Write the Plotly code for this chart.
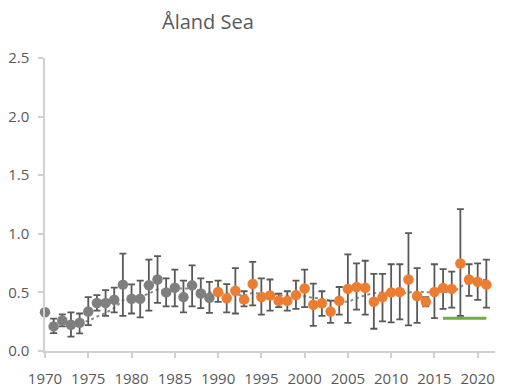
import numpy as np
import pandas as pd
import plotly.graph_objects as go

# Annual values with upper/lower limits of the confidence interval
early_years = list(range(1970, 1990))
early_value = [0.33, 0.21, 0.26, 0.224, 0.24, 0.336, 0.41, 0.41, 0.437, 0.566,
               0.445, 0.445, 0.56, 0.61, 0.50, 0.54, 0.46, 0.56, 0.49, 0.454]
early_upper = [0.33, 0.276, 0.313, 0.33, 0.32, 0.46, 0.477, 0.52, 0.54, 0.83,
               0.569, 0.60, 0.78, 0.81, 0.62, 0.695, 0.60, 0.73, 0.62, 0.59]
early_lower = [0.33, 0.152, 0.21, 0.123, 0.15, 0.22, 0.345, 0.30, 0.33, 0.30,
               0.32, 0.287, 0.345, 0.41, 0.38, 0.38, 0.33, 0.38, 0.365, 0.325]

late_years = list(range(1990, 2022))
late_value = [0.503, 0.45, 0.514, 0.44, 0.572, 0.46, 0.474, 0.428, 0.428, 0.477,
              0.534, 0.394, 0.408, 0.336, 0.428, 0.53, 0.546, 0.54, 0.42, 0.46,
              0.50, 0.503, 0.61, 0.47, 0.42, 0.503, 0.537, 0.53, 0.747, 0.61,
              0.59, 0.566]
late_upper = [0.60, 0.57, 0.707, 0.51, 0.76, 0.62, 0.61, 0.49, 0.51, 0.60,
              0.695, 0.575, 0.51, 0.43, 0.546, 0.825, 0.747, 0.77, 0.658, 0.658,
              0.74, 0.74, 1.006, 0.707, 0.46, 0.74, 0.698, 0.678, 1.21, 0.74,
              0.747, 0.78]
late_lower = [0.42, 0.33, 0.32, 0.38, 0.39, 0.31, 0.345, 0.374, 0.345, 0.36,
              0.374, 0.215, 0.30, 0.24, 0.31, 0.24, 0.353, 0.31, 0.19, 0.253,
              0.244, 0.27, 0.218, 0.24, 0.38, 0.28, 0.36, 0.37, 0.30, 0.47,
              0.437, 0.37]

# Threshold level for the assessment period
threshold_years = [2016, 2021]
threshold_value = [0.28, 0.28]

y_ticks = [0.0, 0.5, 1.0, 1.5, 2.0, 2.5]
x_ticks = list(range(1970, 2021, 5))

GRAY = "#7f7f7f"
ORANGE = "#ed7d31"
GREEN = "#70ad47"
BAR = "#595959"
AXIS = "#d0d0d0"
TEXT = "#595959"
FONT = "Open Sans"

# 5-year moving average across the whole series
all_years = early_years + late_years
all_values = pd.Series(early_value + late_value, index=all_years)
moving_avg = all_values.rolling(5).mean().dropna()


def err(values, upper, lower):
    plus = [u - v for v, u in zip(values, upper)]
    minus = [v - l for v, l in zip(values, lower)]
    return dict(type="data", symmetric=False, array=plus, arrayminus=minus,
                color=BAR, thickness=1.8, width=3.5)


fig = go.Figure()

fig.add_trace(go.Scatter(
    x=list(moving_avg.index), y=list(moving_avg.values), mode="lines",
    line=dict(color="#8c8c8c", width=2, dash="dot"), hoverinfo="skip"))

fig.add_trace(go.Scatter(
    x=threshold_years, y=threshold_value, mode="lines",
    line=dict(color=GREEN, width=3)))

fig.add_trace(go.Scatter(
    x=early_years, y=early_value, mode="markers", cliponaxis=False,
    marker=dict(color=GRAY, size=10.5),
    error_y=err(early_value, early_upper, early_lower)))

fig.add_trace(go.Scatter(
    x=late_years, y=late_value, mode="markers", cliponaxis=False,
    marker=dict(color=ORANGE, size=10.5),
    error_y=err(late_value, late_upper, late_lower)))

fig.update_layout(
    width=518, height=387,
    margin=dict(l=45, r=23, t=58, b=36),
    paper_bgcolor="white", plot_bgcolor="white",
    showlegend=False,
    font=dict(family=FONT, color=TEXT, size=15),
    annotations=[dict(
        text="Åland Sea", xref="paper", yref="paper",
        x=(160 - 45) / 450, y=1 + (58 - 21) / 293, xanchor="left", yanchor="middle",
        showarrow=False, font=dict(family=FONT, size=20, color=TEXT))],
)

fig.update_xaxes(
    range=[1970, 2022], tickvals=x_ticks, ticktext=[str(t) for t in x_ticks],
    showgrid=False, zeroline=False, showline=True, linecolor=AXIS, linewidth=1.5,
    ticks="outside", ticklen=5, tickcolor=AXIS, tickwidth=1.5,
    ticklabelstandoff=8, automargin=False,
    tickfont=dict(size=15, color=TEXT))

fig.update_yaxes(
    range=[0, 2.5], tickvals=y_ticks, ticktext=[f"{t:.1f}" for t in y_ticks],
    showgrid=False, zeroline=False, showline=True, linecolor=AXIS, linewidth=1.5,
    ticks="outside", ticklen=5, tickcolor=AXIS, tickwidth=1.5,
    ticklabelstandoff=6, automargin=False,
    tickfont=dict(size=15, color=TEXT))

fig.write_html("out.html")
